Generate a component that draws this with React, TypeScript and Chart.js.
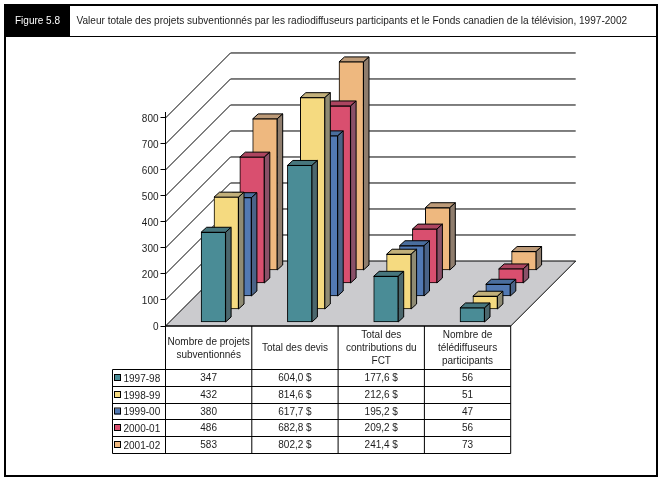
import React, { useEffect, useRef } from "react";
import { Chart, registerables } from "chart.js";

Chart.register(...registerables);

const categories: string[][] = [
  ["Nombre de projets", "subventionnés"],
  ["Total des devis"],
  ["Total des", "contributions du", "FCT"],
  ["Nombre de", "télédiffuseurs", "participants"],
];
const years = ["1997-98", "1998-99", "1999-00", "2000-01", "2001-02"];
const values9798 = [347, 604.0, 177.6, 56];
const values9899 = [432, 814.6, 212.6, 51];
const values9900 = [380, 617.7, 195.2, 47];
const values0001 = [486, 682.8, 209.2, 56];
const values0102 = [583, 802.2, 241.4, 73];
const allValues = [values9798, values9899, values9900, values0001, values0102];
const frontColors = ["#4A8C96", "#F5DA80", "#5279B3", "#D94F6F", "#EEB87F"];
const sideColors = ["#4B676D", "#8F8B73", "#4A6387", "#8A5068", "#8F7D6D"];
const topColors = ["#47767D", "#C2B07A", "#4A6E9E", "#AD4560", "#BC9A78"];
const figureLabel = "Figure 5.8";
const titleText =
  "Valeur totale des projets subventionnés par les radiodiffuseurs participants et le Fonds canadien de la télévision, 1997-2002";

const FONT = '"Liberation Sans", Arial, sans-serif';
const TEXT = "#1c1c1c";
const DEPTH_STEP = 12.9;
const WALL = 65;

const shiftFor = (k: number) => ({ dx: 4.7 + k * DEPTH_STEP, dy: -3.5 - k * 13 });

const fmt = (col: number, v: number) =>
  col === 0 || col === 3 ? String(v) : v.toFixed(1).replace(".", ",") + " $";

const poly = (ctx: CanvasRenderingContext2D, pts: number[][], fill: string) => {
  ctx.beginPath();
  pts.forEach((p, i) => (i ? ctx.lineTo(p[0], p[1]) : ctx.moveTo(p[0], p[1])));
  ctx.closePath();
  ctx.fillStyle = fill;
  ctx.fill();
  ctx.stroke();
};

const line = (ctx: CanvasRenderingContext2D, pts: number[][]) => {
  ctx.beginPath();
  pts.forEach((p, i) => (i ? ctx.lineTo(p[0], p[1]) : ctx.moveTo(p[0], p[1])));
  ctx.stroke();
};

const threeD = {
  id: "threeD",
  beforeDraw(chart: any) {
    const ctx = chart.ctx as CanvasRenderingContext2D;
    ctx.save();
    ctx.fillStyle = "#fff";
    ctx.fillRect(0, 0, chart.width, chart.height);
    ctx.fillStyle = "#000";
    ctx.fillRect(5, 5, 65, 31);
    ctx.strokeStyle = "#000";
    ctx.lineWidth = 2;
    ctx.strokeRect(5, 5, 652, 471);
    ctx.lineWidth = 1;
    line(ctx, [[5, 36.5], [657, 36.5]]);
    ctx.textBaseline = "middle";
    ctx.textAlign = "left";
    ctx.font = `10px ${FONT}`;
    ctx.fillStyle = "#fff";
    ctx.fillText(figureLabel, 15, 21);
    ctx.font = `10.07px ${FONT}`;
    ctx.fillStyle = TEXT;
    ctx.fillText(titleText, 76.5, 21);
    ctx.restore();
  },
  beforeDatasetsDraw(chart: any) {
    const ctx = chart.ctx as CanvasRenderingContext2D;
    const { x, y } = chart.scales;
    const y0 = y.getPixelForValue(0);
    ctx.save();
    ctx.strokeStyle = "#000";
    ctx.lineWidth = 1;
    poly(
      ctx,
      [
        [x.left, y0],
        [x.left + WALL, y0 - WALL],
        [x.right + WALL, y0 - WALL],
        [x.right, y0],
      ],
      "#CBCBCE"
    );
    y.ticks.forEach((t: any) => {
      if (t.value === 0) return;
      const py = y.getPixelForValue(t.value);
      line(ctx, [
        [x.left, py],
        [x.left + WALL, py - WALL],
        [x.right + WALL, py - WALL],
      ]);
    });
    ctx.restore();
  },
  beforeDatasetDraw(chart: any, args: any) {
    const ctx = chart.ctx as CanvasRenderingContext2D;
    const k = args.index;
    const { dx, dy } = shiftFor(k);
    ctx.save();
    ctx.translate(dx, dy);
    ctx.strokeStyle = "#000";
    ctx.lineWidth = 1;
    const ox = 5.5;
    const oy = -5;
    args.meta.data.forEach((el: any) => {
      const { x, y, base, width } = el.getProps(["x", "y", "base", "width"], true);
      const l = x - width / 2;
      const r = x + width / 2;
      poly(ctx, [[l, y], [l + ox, y + oy], [r + ox, y + oy], [r, y]], topColors[k]);
      poly(ctx, [[r, y], [r + ox, y + oy], [r + ox, base + oy], [r, base]], sideColors[k]);
    });
  },
  afterDatasetDraw(chart: any) {
    chart.ctx.restore();
  },
  afterDraw(chart: any) {
    const ctx = chart.ctx as CanvasRenderingContext2D;
    const { x } = chart.scales;
    const rows = [326, 369.5, 386.5, 403.5, 419.5, 436.5, 453.5];
    const edge = (i: number) => x.left + (i * (x.right - x.left)) / categories.length;
    const legendLeft = 112.5;
    ctx.save();
    ctx.strokeStyle = "#000";
    ctx.lineWidth = 1;
    line(ctx, [[x.left, rows[0]], [x.right, rows[0]]]);
    rows.slice(1).forEach((r) => line(ctx, [[legendLeft, r], [x.right, r]]));
    for (let i = 0; i <= categories.length; i++) {
      line(ctx, [[edge(i), rows[0]], [edge(i), rows[6]]]);
    }
    line(ctx, [[legendLeft, rows[1]], [legendLeft, rows[6]]]);
    ctx.font = `10px ${FONT}`;
    ctx.fillStyle = TEXT;
    ctx.textAlign = "center";
    ctx.textBaseline = "middle";
    categories.forEach((lines, i) => {
      const cx = x.getPixelForValue(i);
      const start = (rows[0] + rows[1]) / 2 - ((lines.length - 1) * 13) / 2 + 0.5;
      lines.forEach((t, j) => ctx.fillText(t, cx, start + j * 13));
    });
    years.forEach((yr, k) => {
      const cy = (rows[k + 1] + rows[k + 2]) / 2;
      allValues[k].forEach((v, i) => {
        ctx.fillStyle = TEXT;
        ctx.textAlign = "center";
        ctx.fillText(fmt(i, v), x.getPixelForValue(i), cy + 0.5);
      });
      ctx.fillStyle = frontColors[k];
      ctx.fillRect(115, cy - 3, 6, 6);
      ctx.strokeRect(114.5, cy - 3.5, 6, 6);
      ctx.fillStyle = TEXT;
      ctx.textAlign = "left";
      ctx.fillText(yr, 123.5, cy + 1);
    });
    ctx.restore();
  },
};

export default function App() {
  const ref = useRef<HTMLCanvasElement>(null);
  useEffect(() => {
    document.body.style.margin = "0";
    const chart = new Chart(ref.current!, {
      type: "bar",
      data: {
        labels: categories.map((c) => c.join(" ")),
        datasets: years.map((yr, k) => ({
          label: yr,
          data: allValues[k],
          backgroundColor: frontColors[k],
          borderColor: "#000",
          borderWidth: 1,
          borderSkipped: false,
          barThickness: 24.5,
          grouped: false,
          clip: false as any,
        })),
      },
      options: {
        responsive: false,
        animation: false,
        layout: { padding: { top: 112, right: 151.3, left: 0, bottom: 0 } },
        plugins: { legend: { display: false }, tooltip: { enabled: false }, title: { display: false } },
        scales: {
          x: {
            grid: { display: false },
            border: { display: false },
            ticks: { display: false },
            afterFit(s: any) {
              s.height = 155;
            },
          },
          y: {
            min: 0,
            max: 823,
            grid: { drawOnChartArea: false, drawTicks: true, tickLength: 5, color: "#000" },
            border: { display: true, color: "#000" },
            ticks: {
              stepSize: 100,
              includeBounds: false,
              padding: 2,
              labelOffset: 1,
              color: TEXT,
              font: { family: "Liberation Sans", size: 10 },
            },
            afterFit(s: any) {
              s.width = 165.5;
            },
          },
        },
      },
      plugins: [threeD],
    } as any);
    return () => chart.destroy();
  }, []);
  return <canvas ref={ref} width={662} height={481} style={{ display: "block" }} />;
}
